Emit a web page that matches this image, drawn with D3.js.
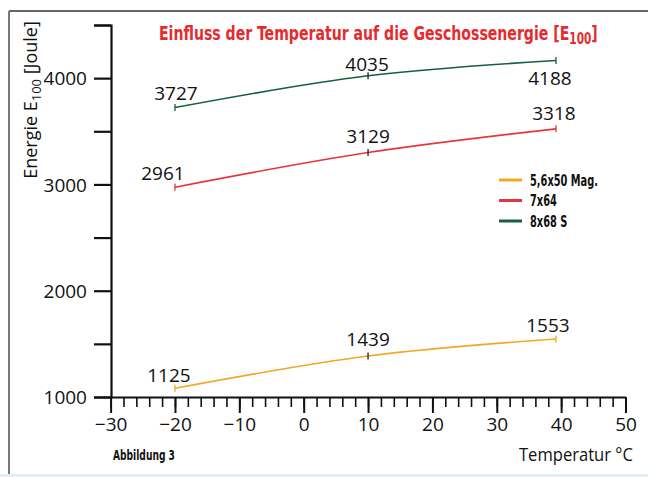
<!DOCTYPE html>
<html><head><meta charset="utf-8">
<script src="https://cdn.jsdelivr.net/npm/d3@7"></script>
<style>body{margin:0;background:#fff}svg{display:block}</style>
</head><body>
<script>
// ---- data ----
const temps = [-20, 10, 39.2];
const seriesNames = ["5,6x50 Mag.", "7x64", "8x68 S"];
const seriesColors = ["#f5a623", "#e8343c", "#16603f"];
// plotted positions
const valsMag = [1082, 1386, 1546];
const vals7x64 = [2974, 3300, 3523];
const vals8x68 = [3723, 4022, 4166];
// printed data labels
const labMag = ["1125", "1439", "1553"];
const lab7x64 = ["2961", "3129", "3318"];
const lab8x68 = ["3727", "4035", "4188"];
const yTickValues = [1000, 1500, 2000, 2500, 3000, 3500, 4000, 4500];
const xMajorTicks = [-30, -20, -10, 0, 10, 20, 30, 40, 50];

const W = 648, H = 477;
const svg = d3.select("body").append("svg").attr("width", W).attr("height", H);
const numFont = "'Open Sans', 'Noto Sans', sans-serif";
const condFont = "'Liberation Sans Narrow', 'DejaVu Sans Condensed', 'Arial Narrow', sans-serif";

function fitX(sel, x0, width) {
  const w = sel.node().getComputedTextLength();
  const sx = width / w;
  sel.attr("transform", `translate(${x0 * (1 - sx)},0) scale(${sx},1)`);
}

// frame
svg.append("rect").attr("x", 0).attr("y", 474).attr("width", W).attr("height", 3).attr("fill", "#e6eef1");
svg.append("line").attr("x1", 9).attr("x2", W).attr("y1", 11).attr("y2", 11).attr("stroke", "#333").attr("stroke-width", 1.5);
svg.append("line").attr("x1", 9).attr("x2", 9).attr("y1", 11).attr("y2", 474).attr("stroke", "#777").attr("stroke-width", 2);

const x = d3.scaleLinear().domain([-30, 50]).range([110.6, 625.5]);
const y = d3.scaleLinear().domain([1000, 4500]).range([397, 25]);

// y axis
const yAx = svg.append("g").attr("transform", "translate(111,0)")
  .call(d3.axisLeft(y).tickValues(yTickValues).tickSize(17).tickPadding(7)
    .tickFormat(d => d % 1000 === 0 ? d : ""));
yAx.select(".domain").attr("stroke", "#111").attr("stroke-width", 2.2);
yAx.selectAll(".tick line").attr("stroke", "#111").attr("stroke-width", 2.2);
yAx.selectAll(".tick text").attr("font-family", numFont).attr("font-size", 19).attr("fill", "#111").attr("dy", "0.36em");

// x axis minor
const xMinor = d3.range(-30, 51, 2);
const xAxMin = svg.append("g").attr("transform", "translate(0,397)")
  .call(d3.axisBottom(x).tickValues(xMinor).tickSize(10).tickFormat(""));
xAxMin.select(".domain").remove();
xAxMin.selectAll(".tick line").attr("stroke", "#111").attr("stroke-width", 1.6);
// x axis major
const xAx = svg.append("g").attr("transform", "translate(0,397)")
  .call(d3.axisBottom(x).tickValues(xMajorTicks).tickSize(16).tickPadding(5)
    .tickSizeOuter(0).tickFormat(d => d < 0 ? "\u2212" + Math.abs(d) : d));
xAx.select(".domain").attr("stroke", "#111").attr("stroke-width", 2.2);
xAx.selectAll(".tick line").attr("stroke", "#111").attr("stroke-width", 2);
xAx.selectAll(".tick text").attr("font-family", numFont).attr("font-size", 19).attr("fill", "#111");

// series
const series = [
  {name: seriesNames[0], color: seriesColors[0], vals: valsMag, labs: labMag},
  {name: seriesNames[1], color: seriesColors[1], vals: vals7x64, labs: lab7x64},
  {name: seriesNames[2], color: seriesColors[2], vals: vals8x68, labs: lab8x68}
];
// label placement offsets (styling, relative to each point)
const labelOffsets = [
  [[-6, -6], [0, -10], [-8, -7]],
  [[-12, -7], [0, -10], [-2, -9]],
  [[1, -8], [-1, -5], [-6, 25]]
];
const line = d3.line().x(d => x(d[0])).y(d => y(d[1])).curve(d3.curveMonotoneX);
series.forEach((s, si) => {
  const pts = temps.map((t, i) => [t, s.vals[i]]);
  svg.append("path").attr("d", line(pts)).attr("fill", "none")
    .attr("stroke", s.color).attr("stroke-width", 1.6);
  svg.selectAll(null).data(pts).enter().append("line")
    .attr("x1", d => x(d[0])).attr("x2", d => x(d[0]))
    .attr("y1", d => y(d[1]) - 3.5).attr("y2", d => y(d[1]) + 3.5)
    .attr("stroke", (d, i) => i === 1 ? "#222" : s.color).attr("stroke-width", 1.3);
  svg.selectAll(null).data(pts).enter().append("text")
    .attr("x", (d, i) => x(d[0]) + labelOffsets[si][i][0])
    .attr("y", (d, i) => y(d[1]) + labelOffsets[si][i][1])
    .attr("text-anchor", "middle").attr("font-family", numFont).attr("font-size", 19)
    .attr("fill", "#111").text((d, i) => s.labs[i]);
});

// legend
const lg = svg.append("g");
let legendScale = null;
series.forEach((s, i) => {
  const ly = 180 + i * 20.5;
  lg.append("line").attr("x1", 499).attr("x2", 522).attr("y1", ly).attr("y2", ly)
    .attr("stroke", s.color).attr("stroke-width", 3);
  const t = lg.append("text").attr("x", 530).attr("y", ly).attr("dy", "0.36em")
    .attr("font-family", condFont).attr("font-weight", "bold").attr("font-size", 16.5)
    .attr("fill", "#111").text(s.name);
  if (legendScale === null) legendScale = 68 / t.node().getComputedTextLength();
  t.attr("transform", `translate(${530 * (1 - legendScale)},0) scale(${legendScale},1)`);
});

// title
const title = svg.append("text").attr("x", 159).attr("y", 40)
  .attr("font-family", condFont).attr("font-weight", "bold").attr("font-size", 20)
  .attr("fill", "#e52b2f");
title.append("tspan").text("Einfluss der Temperatur auf die Geschossenergie [E");
title.append("tspan").attr("font-size", 15).attr("dy", 4).text("100");
title.append("tspan").attr("dy", -4).text("]");
fitX(title, 159, 439);

// y label
const yl = svg.append("text").attr("transform", "translate(37,100) rotate(-90)")
  .attr("text-anchor", "middle").attr("font-family", numFont).attr("font-size", 18).attr("fill", "#111");
yl.append("tspan").text("Energie E");
yl.append("tspan").attr("font-size", 13).attr("dy", 4).text("100");
yl.append("tspan").attr("dy", -4).text(" [Joule]");

// x label & caption
const xl = svg.append("text").attr("x", 519).attr("y", 461)
  .attr("font-family", numFont).attr("font-size", 18).attr("fill", "#111").text("Temperatur °C");
fitX(xl, 519, 114);
const cap = svg.append("text").attr("x", 113).attr("y", 460)
  .attr("font-family", condFont).attr("font-weight", "bold").attr("font-size", 13.5)
  .attr("fill", "#111").text("Abbildung 3");
fitX(cap, 113, 62);
</script>
</body></html>
